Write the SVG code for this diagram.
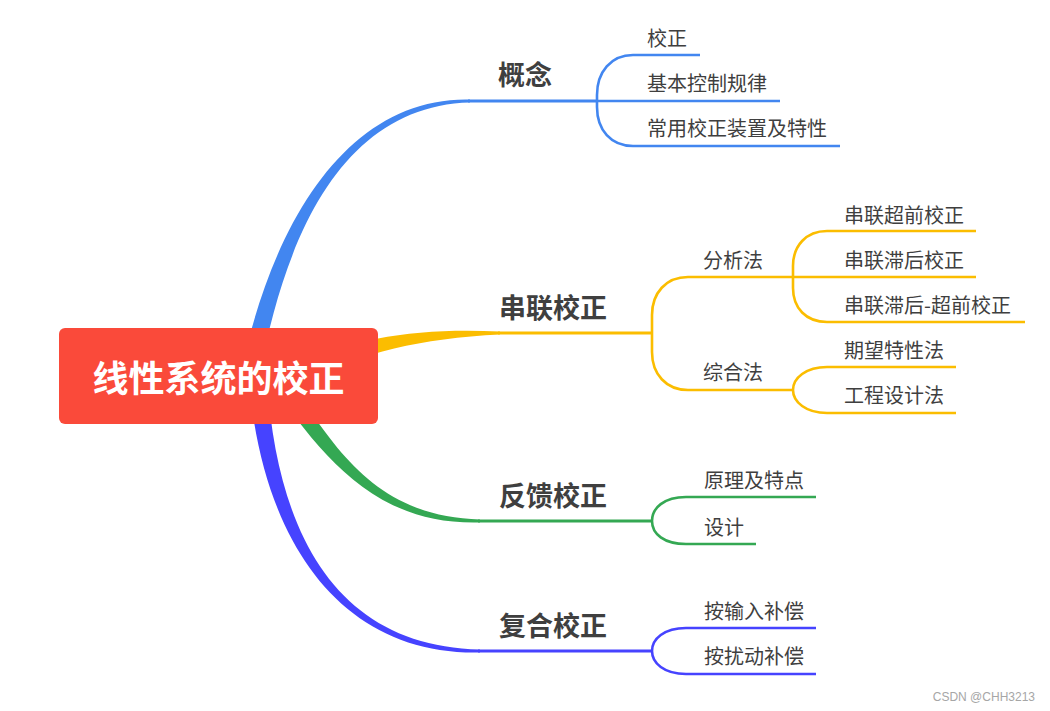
<svg xmlns="http://www.w3.org/2000/svg" width="1050" height="711" viewBox="0 0 1050 711">
<style>
.l{fill:none;stroke-width:2.6;stroke-linecap:butt}
.m{fill:none;stroke-width:3}
.b1{stroke:#4286f0}.f1{fill:#4286f0}
.b2{stroke:#fbbd00}.f2{fill:#fbbd00}
.b3{stroke:#34a853}.f3{fill:#34a853}
.b4{stroke:#4643ff}.f4{fill:#4643ff}
.main{font-family:"Microsoft YaHei","Noto Sans CJK SC",sans-serif;font-size:27px;font-weight:bold;fill:#3f3f3f}
.sub{font-family:"Microsoft YaHei","Noto Sans CJK SC",sans-serif;font-size:20px;fill:#3f3f3f}
</style>
<rect width="1050" height="711" fill="#ffffff"/>
<g id="connectors">
<path class="f1" d="M259.3,377.7 C287.4,221.4 350,105.5 470,102.5 L470,99.5 C350,96.5 272.6,218.6 240.7,374.3 Z"/>
<path class="f2" d="M304.1,381.1 C363.3,352.3 420,338.5 500,334.5 L500,331.5 C420,327.5 356.7,337.7 295.9,362.9 Z"/>
<path class="f3" d="M267.7,380.2 C318.9,449.4 370,525.5 480,522.5 L480,519.5 C370,516.5 331.1,440.6 282.3,369.8 Z"/>
<path class="f4" d="M249,380.7 C262.5,540.6 340,655.5 480,652.5 L480,649.5 C340,646.5 277.5,539.4 267,379.3 Z"/>
<path class="m b1" d="M468,101 H597"/>
<path class="m b2" d="M498,333 H652"/>
<path class="m b3" d="M478,521 H652"/>
<path class="m b4" d="M478,651 H652"/>
<path class="l b1" d="M700,55 H633 C611,55 597,72 597,95 L597,107 C597,130 611,146 633,146 H840 M597,101 H780"/>
<path class="l b2" d="M793,277 H688 C666,277 652,293 652,315 L652,352 C652,374 666,390 688,390 H793"/>
<path class="l b2" d="M976,231 H827 C806,231 793,246 793,266 L793,288 C793,308 806,322 827,322 H1025 M793,277 H976"/>
<path class="l b2" d="M956,367 H827 C806,367 793,378 793,390 C793,402 806,413 827,413 H956"/>
<path class="l b3" d="M816,497 H686 C664,497 652,508 652,521 C652,534 664,544 686,544 H756"/>
<path class="l b4" d="M816,628 H686 C664,628 652,639 652,651 C652,663 664,674 686,674 H816"/>
</g>
<g id="root">
<rect x="59" y="328" width="319" height="96" rx="6" fill="#fa4a3a"/>
<text x="218.5" y="392" text-anchor="middle" font-family="'Microsoft YaHei','Noto Sans CJK SC',sans-serif" font-size="36" font-weight="bold" fill="#ffffff">线性系统的校正</text>
</g>
<g id="n-gainian"><text class="main" x="498" y="85">概念</text></g>
<g id="n-jiaozheng"><text class="sub" x="647" y="46">校正</text></g>
<g id="n-jiben"><text class="sub" x="647" y="91">基本控制规律</text></g>
<g id="n-changyong"><text class="sub" x="647" y="136">常用校正装置及特性</text></g>
<g id="n-chuanlian"><text class="main" x="499" y="318">串联校正</text></g>
<g id="n-fenxi"><text class="sub" x="703" y="268">分析法</text></g>
<g id="n-zonghe"><text class="sub" x="703" y="380">综合法</text></g>
<g id="n-chaoqian"><text class="sub" x="844" y="223">串联超前校正</text></g>
<g id="n-zhihou"><text class="sub" x="844" y="268">串联滞后校正</text></g>
<g id="n-zhihouchaoqian"><text class="sub" x="844" y="313">串联滞后-超前校正</text></g>
<g id="n-qiwang"><text class="sub" x="844" y="358">期望特性法</text></g>
<g id="n-gongcheng"><text class="sub" x="844" y="403">工程设计法</text></g>
<g id="n-fankui"><text class="main" x="499" y="506">反馈校正</text></g>
<g id="n-yuanli"><text class="sub" x="704" y="488">原理及特点</text></g>
<g id="n-sheji"><text class="sub" x="704" y="535">设计</text></g>
<g id="n-fuhe"><text class="main" x="499" y="636">复合校正</text></g>
<g id="n-shuru"><text class="sub" x="704" y="619">按输入补偿</text></g>
<g id="n-raodong"><text class="sub" x="704" y="664">按扰动补偿</text></g>
<text x="1035" y="701" text-anchor="end" font-family="'Liberation Sans',Arial,sans-serif" font-size="12" fill="#a6a6a6">CSDN @CHH3213</text>
</svg>
